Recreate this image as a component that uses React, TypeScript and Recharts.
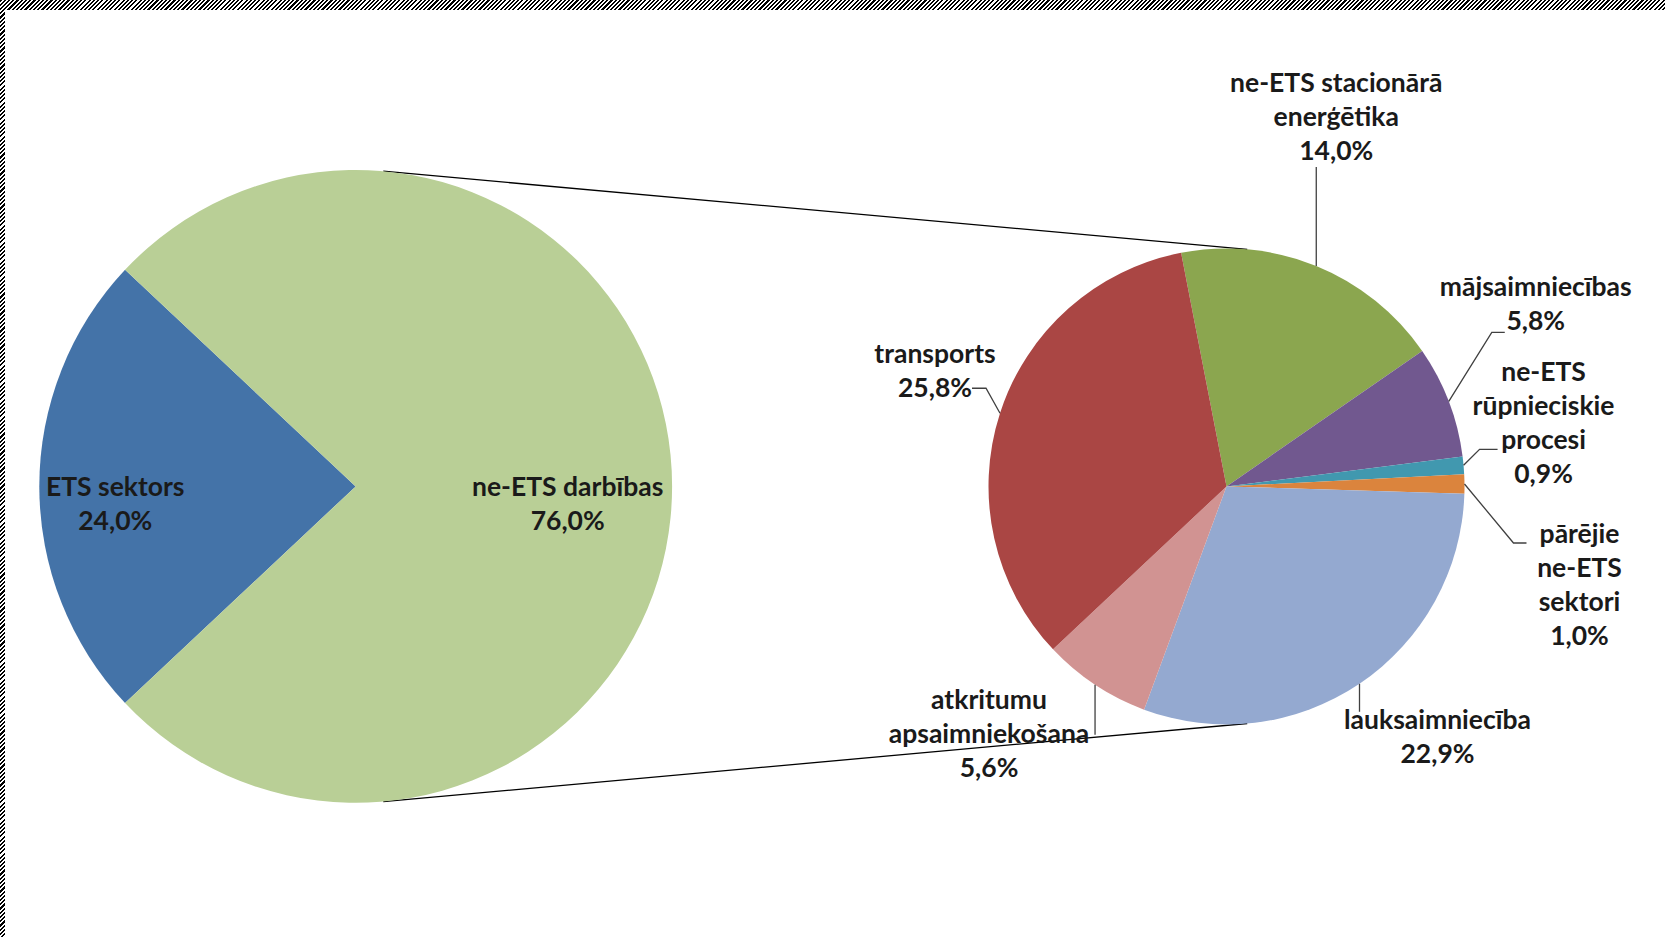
import { PieChart, Pie, Cell, Customized } from 'recharts';

// kopējās emisijas
const totalCategories = ['ETS sektors', 'ne-ETS darbības'];
const totalValues = [24.0, 76.0];
const totalColors = ['#4473A8', '#B9CF96'];

// ne-ETS sadalījums (procenti no kopējā)
const detailCategories = [
  'ne-ETS stacionārā\nenerģētika',
  'mājsaimniecības',
  'ne-ETS\nrūpnieciskie\nprocesi',
  'pārējie\nne-ETS\nsektori',
  'lauksaimniecība',
  'atkritumu\napsaimniekošana',
  'transports',
];
const detailValues = [14.0, 5.8, 0.9, 1.0, 22.9, 5.6, 25.8];
const detailColors = ['#8BA64F', '#71588F', '#4198AF', '#DB843D', '#94A9D0', '#D19392', '#AA4644'];

const W = 1665;
const H = 937;
const FONT = 'Lato, "Open Sans", sans-serif';
const FS = 26.5;
const LINE_H = 34;
const TXT = '#1a1a1a';

const LEFT = { cx: 355.7, cy: 486.4, r: 316.4 };
const RIGHT = { cx: 1226.5, cy: 486.4, r: 238 };
const CONNECT_ANGLE = 85;

// label placement relative to the slice's outer mid point
const leftLabelRatio = [0.76, 0.67];
const rightLayout = [
  { leader: [[0, -99]], dx: 20, dy: -184 },
  { leader: [[43, -69], [56, -69]], dx: 87, dy: -115 },
  { leader: [[16, -16], [34, -16]], dx: 80, dy: -94 },
  { leader: [[49, 59], [62, 59]], dx: 115, dy: 49 },
  { leader: [[0, 28]], dx: 78, dy: 35 },
  { leader: [[0, 50]], dx: -106, dy: 14 },
  { leader: [[-14, -25], [-28, -25]], dx: -65, dy: -60 },
];

const fmt = (v: number) => v.toFixed(1).replace('.', ',') + '%';

const totalData = totalCategories.map((name, i) => ({ name, value: totalValues[i] }));
const detailData = detailCategories.map((name, i) => ({ name, value: detailValues[i] }));

const etsShare = totalValues[0] / totalValues.reduce((a, b) => a + b, 0);
const leftStart = 180 + etsShare * 180;

const RAD = Math.PI / 180;

const renderLeftLabel = (props: any) => {
  const { cx, cy, midAngle, outerRadius, index } = props;
  const rr = outerRadius * leftLabelRatio[index];
  const x = cx + rr * Math.cos(-midAngle * RAD);
  const y = cy + rr * Math.sin(-midAngle * RAD);
  const lines = [totalCategories[index], fmt(totalValues[index])];
  return (
    <g>
      {lines.map((l, i) => (
        <text key={i} x={x} y={y + i * LINE_H} textAnchor="middle" dominantBaseline="central"
          fontFamily={FONT} fontSize={FS} fontWeight={700} fill={TXT}>{l}</text>
      ))}
    </g>
  );
};

const renderRightLabel = (props: any) => {
  const { cx, cy, midAngle, outerRadius, index } = props;
  const ex = cx + outerRadius * Math.cos(-midAngle * RAD);
  const ey = cy + outerRadius * Math.sin(-midAngle * RAD);
  const lay = rightLayout[index];
  const pts = [[ex, ey], ...lay.leader.map(([dx, dy]) => [ex + dx, ey + dy])];
  const lines = [...detailCategories[index].split('\n'), fmt(detailValues[index])];
  return (
    <g>
      <polyline points={pts.map((p) => p.join(',')).join(' ')} fill="none" stroke="#404040" strokeWidth={1.3} />
      {lines.map((l, i) => (
        <text key={i} x={ex + lay.dx} y={ey + lay.dy + i * LINE_H} textAnchor="middle" dominantBaseline="central"
          fontFamily={FONT} fontSize={FS} fontWeight={700} fill={TXT}>{l}</text>
      ))}
    </g>
  );
};

const Connectors = () => {
  const pt = (c: typeof LEFT, a: number) => [c.cx + c.r * Math.cos(a * RAD), c.cy - c.r * Math.sin(a * RAD)];
  const lines = [CONNECT_ANGLE, -CONNECT_ANGLE].map((a) => [pt(LEFT, a), pt(RIGHT, a)]);
  return (
    <g>
      {lines.map(([p1, p2], i) => (
        <line key={i} x1={p1[0]} y1={p1[1]} x2={p2[0]} y2={p2[1]} stroke="#000" strokeWidth={1.3} />
      ))}
    </g>
  );
};

const hatch = 'repeating-linear-gradient(135deg, #000 0px, #000 1.5px, #fff 1.5px, #fff 3px)';

export default function App() {
  return (
    <div style={{ position: 'absolute', left: 0, top: 0, width: W, height: H, background: '#fff', overflow: 'hidden' }}>
      <div style={{ position: 'absolute', left: 0, top: 0, width: W, height: 10, backgroundImage: hatch }} />
      <div style={{ position: 'absolute', left: 0, top: 0, width: 5, height: H, backgroundImage: hatch }} />
      <div style={{ position: 'absolute', left: 0, top: 0 }}>
        <PieChart width={W} height={H} margin={{ top: 0, right: 0, bottom: 0, left: 0 }}>
          <Pie
            data={totalData}
            dataKey="value"
            nameKey="name"
            cx={LEFT.cx}
            cy={LEFT.cy}
            outerRadius={LEFT.r}
            startAngle={leftStart}
            endAngle={leftStart - 360}
            stroke="none"
            label={renderLeftLabel}
            labelLine={false}
            isAnimationActive={false}
          >
            {totalData.map((d, i) => (
              <Cell key={d.name} fill={totalColors[i]} />
            ))}
          </Pie>
          <Pie
            data={detailData}
            dataKey="value"
            nameKey="name"
            cx={RIGHT.cx}
            cy={RIGHT.cy}
            outerRadius={RIGHT.r}
            startAngle={101}
            endAngle={-259}
            stroke="none"
            label={renderRightLabel}
            labelLine={false}
            isAnimationActive={false}
          >
            {detailData.map((d, i) => (
              <Cell key={d.name} fill={detailColors[i]} />
            ))}
          </Pie>
          <Customized component={Connectors} />
        </PieChart>
      </div>
    </div>
  );
}
